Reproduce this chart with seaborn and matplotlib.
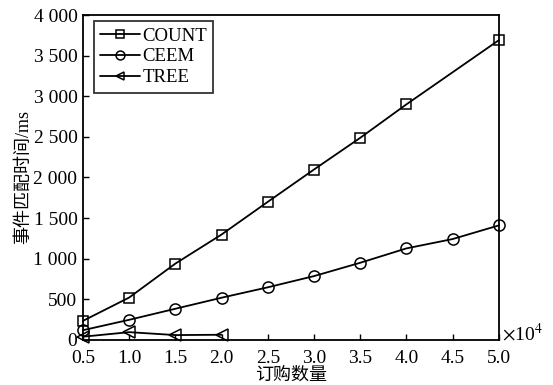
import matplotlib
matplotlib.use("Agg")
import matplotlib.pyplot as plt
import seaborn as sns
import pandas as pd

# Order counts (x 10^4) and event-matching time (ms)
count_x = [0.5, 1.0, 1.5, 2.0, 2.5, 3.0, 3.5, 4.0, 5.0]
count_y = [235, 522, 940, 1298, 1700, 2098, 2488, 2900, 3690]
ceem_x = [0.5, 1.0, 1.5, 2.0, 2.5, 3.0, 3.5, 4.0, 4.5, 5.0]
ceem_y = [120, 248, 384, 520, 648, 786, 950, 1127, 1242, 1410]
tree_x = [0.5, 1.0, 1.5, 2.0]
tree_y = [40, 96, 60, 64]

x_ticks = [0.5, 1.0, 1.5, 2.0, 2.5, 3.0, 3.5, 4.0, 4.5, 5.0]
y_ticks = [0, 500, 1000, 1500, 2000, 2500, 3000, 3500, 4000]
y_tick_labels = ["0", "500", "1 000", "1 500", "2 000", "2 500", "3 000", "3 500", "4 000"]

sns.set_theme(style="white")
plt.rcParams["font.family"] = ["Liberation Serif", "Noto Sans CJK SC"]
plt.rcParams["mathtext.fontset"] = "stix"

fig = plt.figure(figsize=(5.53, 3.85), dpi=100)
ax = fig.add_axes([0.150, 0.117, 0.752, 0.844])

series = [
    ("COUNT", count_x, count_y, "s", 7),
    ("CEEM", ceem_x, ceem_y, "o", 8),
    ("TREE", tree_x, tree_y, "<", 8),
]
for name, xs, ys, mk, ms in series:
    df = pd.DataFrame({"x": xs, "y": ys})
    sns.lineplot(data=df, x="x", y="y", ax=ax, color="black", lw=1.3,
                 marker=mk, markersize=ms, markerfacecolor="none",
                 markeredgecolor="black", markeredgewidth=1.1,
                 label=name, clip_on=False, zorder=3)

ax.set_xlim(0.5, 5.0)
ax.set_ylim(0, 4000)
ax.set_xticks(x_ticks)
ax.set_xticklabels([f"{v:.1f}" for v in x_ticks])
ax.set_yticks(y_ticks)
ax.set_yticklabels(y_tick_labels)
ax.tick_params(direction="in", length=4, width=1, colors="black",
               labelsize=14, top=False, right=False,
               bottom=True, left=True)
ax.tick_params(axis="y", pad=4)
ax.tick_params(axis="x", pad=7)
for sp in ax.spines.values():
    sp.set_color("black")
    sp.set_linewidth(1.3)

ax.set_xlabel("订购数量", fontsize=13, color="black", labelpad=0)
ax.set_ylabel("事件匹配时间/ms", fontsize=13, color="black", labelpad=1)
ax.text(1.008, 0.02, r"$\times$10$^4$", transform=ax.transAxes,
        fontsize=14, ha="left", va="center", color="black")

leg = ax.legend(loc="upper left", bbox_to_anchor=(0.026, 0.982),
                borderaxespad=0, fontsize=13.5, frameon=True, fancybox=False,
                edgecolor="black", handlelength=2.13, handletextpad=0.1,
                borderpad=0.35, labelspacing=0.2, markerscale=0.8)
leg.get_frame().set_linewidth(1.3)
for t in leg.get_texts():
    t.set_color("black")

fig.savefig("out.png", dpi=100)
